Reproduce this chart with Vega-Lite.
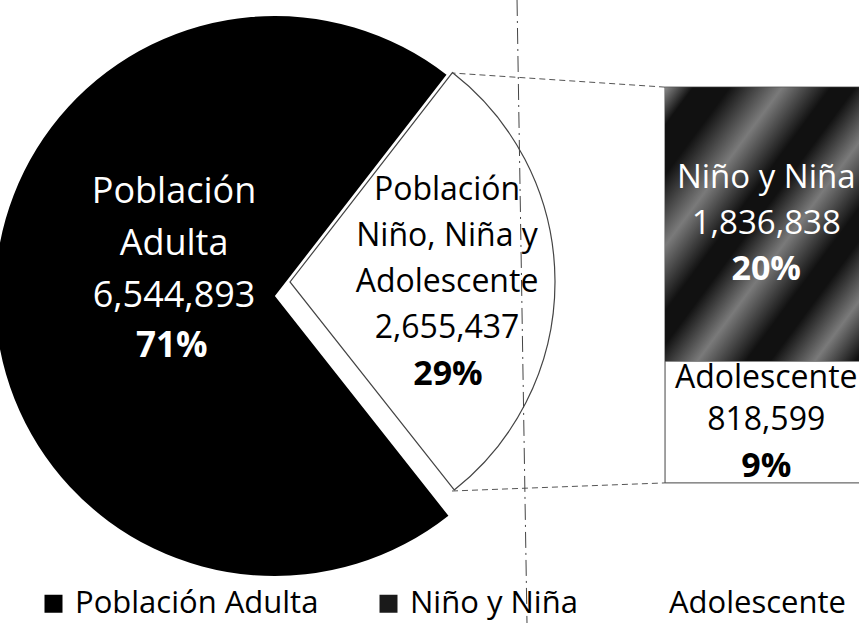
{
  "$schema": "https://vega.github.io/schema/vega-lite/v6.json",
  "width": 859,
  "height": 623,
  "autosize": {"type": "none"},
  "padding": 0,
  "background": "white",
  "config": {"view": {"stroke": null}, "font": "Open Sans", "text": {"font": "Open Sans"}},
  "datasets": {
    "pie": [
      {"grupo": "Población Niño, Niña y Adolescente", "poblacion": 2655437, "pct": "29%", "orden": 1, "label": ["Población", "Niño, Niña y", "Adolescente", "2,655,437"]},
      {"grupo": "Población Adulta", "poblacion": 6544893, "pct": "71%", "orden": 2, "label": ["Población", "Adulta", "6,544,893"]}
    ],
    "bar": [
      {"grupo": "Adolescente", "poblacion": 818599, "pct": "9%", "orden": 1, "label": ["Adolescente", "818,599"]},
      {"grupo": "Niño y Niña", "poblacion": 1836838, "pct": "20%", "orden": 2, "label": ["Niño y Niña", "1,836,838"]}
    ]
  },
  "layer": [
    {
      "data": {"name": "pie"},
      "transform": [
        {"stack": "poblacion", "groupby": [], "sort": [{"field": "orden", "order": "ascending"}], "as": ["t0", "t1"]},
        {"filter": "datum.orden == 2"}
      ],
      "mark": {"type": "arc", "outerRadius": 280, "innerRadius": 0},
      "encoding": {
        "x": {"datum": 32.0, "type": "quantitative", "stack": null, "scale": {"domain": [0, 100], "nice": false, "zero": false}, "axis": null},
        "y": {"datum": 1254000, "type": "quantitative", "stack": null, "scale": {"domain": [-940000, 3240000], "nice": false, "zero": false}, "axis": null},
        "theta": {"field": "t0", "type": "quantitative", "stack": null, "scale": {"domain": [0, 9200330], "range": [0.6597, 6.9429]}},
        "theta2": {"field": "t1"},
        "color": {
          "field": "grupo", "type": "nominal",
          "scale": {"domain": ["Población Adulta", "Niño y Niña", "Adolescente"], "range": ["#000000", "#1a1a1a", "#ffffff"]},
          "legend": {"orient": "none", "legendX": 38, "legendY": 588, "direction": "horizontal", "title": null, "symbolType": "square", "symbolSize": 324, "symbolStrokeWidth": 0, "labelFontSize": 31, "labelFont": "Open Sans", "labelColor": "#000000", "labelLimit": 400, "columnPadding": 54, "labelOffset": 6, "padding": 0}
        }
      }
    },
    {
      "data": {"name": "pie"},
      "transform": [
        {"stack": "poblacion", "groupby": [], "sort": [{"field": "orden", "order": "ascending"}], "as": ["t0", "t1"]},
        {"filter": "datum.orden == 1"}
      ],
      "mark": {"type": "arc", "outerRadius": 265, "innerRadius": 0, "fill": "#ffffff", "stroke": "#444444", "strokeWidth": 1.2},
      "encoding": {
        "x": {"datum": 33.76, "type": "quantitative", "stack": null, "scale": {"domain": [0, 100], "nice": false, "zero": false}, "axis": null},
        "y": {"datum": 1348000, "type": "quantitative", "stack": null, "scale": {"domain": [-940000, 3240000], "nice": false, "zero": false}, "axis": null},
        "theta": {"field": "t0", "type": "quantitative", "stack": null, "scale": {"domain": [0, 9200330], "range": [0.6597, 6.9429]}},
        "theta2": {"field": "t1"}
      }
    },
    {
      "data": {"name": "pie"},
      "transform": [{"filter": "datum.orden == 1"}],
      "mark": {"type": "rule", "color": "#555555", "strokeWidth": 1, "strokeDash": [6, 4]},
      "encoding": {
        "x": {"datum": 77.42, "type": "quantitative", "scale": {"domain": [0, 100], "nice": false, "zero": false}, "axis": null},
        "y": {"field": "poblacion", "type": "quantitative", "scale": {"domain": [-940000, 3240000], "nice": false, "zero": false}, "axis": null},
        "x2": {"datum": 52.62},
        "y2": {"datum": 2750200}
      }
    },
    {
      "data": {"name": "pie"},
      "transform": [{"filter": "datum.orden == 1"}],
      "mark": {"type": "rule", "color": "#555555", "strokeWidth": 1, "strokeDash": [6, 4]},
      "encoding": {
        "x": {"datum": 52.62, "type": "quantitative", "scale": {"domain": [0, 100], "nice": false, "zero": false}, "axis": null},
        "y": {"datum": -54350, "type": "quantitative", "scale": {"domain": [-940000, 3240000], "nice": false, "zero": false}, "axis": null},
        "x2": {"datum": 77.42},
        "y2": {"datum": 0}
      }
    },
    {
      "data": {"name": "bar"},
      "transform": [
        {"stack": "poblacion", "groupby": [], "sort": [{"field": "orden", "order": "ascending"}], "as": ["t0", "t1"]}
      ],
      "mark": {"type": "rect", "stroke": "#444444", "strokeWidth": 1},
      "encoding": {
        "x": {"datum": 77.42, "type": "quantitative", "scale": {"domain": [0, 100], "nice": false, "zero": false}, "axis": null},
        "x2": {"datum": 101},
        "y": {"field": "t0", "type": "quantitative", "scale": {"domain": [-940000, 3240000], "nice": false, "zero": false}, "axis": null},
        "y2": {"field": "t1"},
        "color": {
          "field": "grupo", "type": "nominal",
          "scale": {"domain": ["Población Adulta", "Niño y Niña", "Adolescente"], "range": ["#000000", "#1a1a1a", "#ffffff"]},
          "legend": {"orient": "none", "legendX": 38, "legendY": 588, "direction": "horizontal", "title": null, "symbolType": "square", "symbolSize": 324, "symbolStrokeWidth": 0, "labelFontSize": 31, "labelFont": "Open Sans", "labelColor": "#000000", "labelLimit": 400, "columnPadding": 54, "labelOffset": 6, "padding": 0}
        }
      }
    },
    {
      "data": {"name": "bar"},
      "transform": [
        {"stack": "poblacion", "groupby": [], "sort": [{"field": "orden", "order": "ascending"}], "as": ["t0", "t1"]},
        {"filter": "datum.orden == 2"}
      ],
      "mark": {
        "type": "rect",
        "fill": {
          "gradient": "linear", "x1": 0, "y1": 0, "x2": 1, "y2": 1,
          "stops": [
            {"offset": 0, "color": "#8a8a8a"},
            {"offset": 0.07, "color": "#111111"},
            {"offset": 0.16, "color": "#111111"},
            {"offset": 0.29, "color": "#7a7a7a"},
            {"offset": 0.41, "color": "#111111"},
            {"offset": 0.47, "color": "#111111"},
            {"offset": 0.58, "color": "#7a7a7a"},
            {"offset": 0.70, "color": "#111111"},
            {"offset": 0.76, "color": "#111111"},
            {"offset": 0.87, "color": "#7a7a7a"},
            {"offset": 0.97, "color": "#111111"},
            {"offset": 1, "color": "#111111"}
          ]
        }
      },
      "encoding": {
        "x": {"datum": 77.42, "type": "quantitative", "scale": {"domain": [0, 100], "nice": false, "zero": false}, "axis": null},
        "x2": {"datum": 101},
        "y": {"field": "t0", "type": "quantitative", "scale": {"domain": [-940000, 3240000], "nice": false, "zero": false}, "axis": null},
        "y2": {"field": "t1"}
      }
    },
    {
      "data": {"name": "bar"},
      "transform": [{"filter": "datum.orden == 2"}],
      "mark": {"type": "text", "align": "center", "baseline": "middle", "fontSize": 33, "lineHeight": 46, "color": "#ffffff"},
      "encoding": {
        "x": {"datum": 89.2, "type": "quantitative", "scale": {"domain": [0, 100], "nice": false, "zero": false}, "axis": null},
        "y": {"datum": 2045700, "type": "quantitative", "scale": {"domain": [-940000, 3240000], "nice": false, "zero": false}, "axis": null},
        "text": {"field": "label", "type": "nominal"}
      }
    },
    {
      "data": {"name": "bar"},
      "transform": [{"filter": "datum.orden == 2"}],
      "mark": {"type": "text", "align": "center", "baseline": "middle", "fontSize": 34, "fontWeight": "bold", "color": "#ffffff"},
      "encoding": {
        "x": {"datum": 89.2, "type": "quantitative", "scale": {"domain": [0, 100], "nice": false, "zero": false}, "axis": null},
        "y": {"datum": 1428000, "type": "quantitative", "scale": {"domain": [-940000, 3240000], "nice": false, "zero": false}, "axis": null},
        "text": {"field": "pct", "type": "nominal"}
      }
    },
    {
      "data": {"name": "bar"},
      "transform": [{"filter": "datum.orden == 1"}],
      "mark": {"type": "text", "align": "center", "baseline": "middle", "fontSize": 32, "lineHeight": 42, "color": "#000000"},
      "encoding": {
        "x": {"datum": 89.2, "type": "quantitative", "scale": {"domain": [0, 100], "nice": false, "zero": false}, "axis": null},
        "y": {"datum": 703900, "type": "quantitative", "scale": {"domain": [-940000, 3240000], "nice": false, "zero": false}, "axis": null},
        "text": {"field": "label", "type": "nominal"}
      }
    },
    {
      "data": {"name": "bar"},
      "transform": [{"filter": "datum.orden == 1"}],
      "mark": {"type": "text", "align": "center", "baseline": "middle", "fontSize": 34, "fontWeight": "bold", "color": "#000000"},
      "encoding": {
        "x": {"datum": 89.2, "type": "quantitative", "scale": {"domain": [0, 100], "nice": false, "zero": false}, "axis": null},
        "y": {"datum": 106700, "type": "quantitative", "scale": {"domain": [-940000, 3240000], "nice": false, "zero": false}, "axis": null},
        "text": {"field": "pct", "type": "nominal"}
      }
    },
    {
      "data": {"name": "pie"},
      "transform": [{"filter": "datum.orden == 2"}],
      "mark": {"type": "text", "align": "center", "baseline": "middle", "fontSize": 36, "lineHeight": 52, "color": "#ffffff"},
      "encoding": {
        "x": {"datum": 20.26, "type": "quantitative", "scale": {"domain": [0, 100], "nice": false, "zero": false}, "axis": null},
        "y": {"datum": 1952000, "type": "quantitative", "scale": {"domain": [-940000, 3240000], "nice": false, "zero": false}, "axis": null},
        "text": {"field": "label", "type": "nominal"}
      }
    },
    {
      "data": {"name": "pie"},
      "transform": [{"filter": "datum.orden == 2"}],
      "mark": {"type": "text", "align": "center", "baseline": "middle", "fontSize": 35, "fontWeight": "bold", "color": "#ffffff"},
      "encoding": {
        "x": {"datum": 20.0, "type": "quantitative", "scale": {"domain": [0, 100], "nice": false, "zero": false}, "axis": null},
        "y": {"datum": 918500, "type": "quantitative", "scale": {"domain": [-940000, 3240000], "nice": false, "zero": false}, "axis": null},
        "text": {"field": "pct", "type": "nominal"}
      }
    },
    {
      "data": {"name": "pie"},
      "transform": [{"filter": "datum.orden == 1"}],
      "mark": {"type": "text", "align": "center", "baseline": "middle", "fontSize": 32, "lineHeight": 46, "color": "#000000"},
      "encoding": {
        "x": {"datum": 52.04, "type": "quantitative", "scale": {"domain": [0, 100], "nice": false, "zero": false}, "axis": null},
        "y": {"datum": 1965200, "type": "quantitative", "scale": {"domain": [-940000, 3240000], "nice": false, "zero": false}, "axis": null},
        "text": {"field": "label", "type": "nominal"}
      }
    },
    {
      "data": {"name": "pie"},
      "transform": [{"filter": "datum.orden == 1"}],
      "mark": {"type": "text", "align": "center", "baseline": "middle", "fontSize": 34, "fontWeight": "bold", "color": "#000000"},
      "encoding": {
        "x": {"datum": 52.15, "type": "quantitative", "scale": {"domain": [0, 100], "nice": false, "zero": false}, "axis": null},
        "y": {"datum": 724000, "type": "quantitative", "scale": {"domain": [-940000, 3240000], "nice": false, "zero": false}, "axis": null},
        "text": {"field": "pct", "type": "nominal"}
      }
    },
    {
      "data": {"name": "pie"},
      "transform": [{"filter": "datum.orden == 1"}],
      "mark": {"type": "rule", "color": "#444444", "strokeWidth": 1, "strokeDash": [16, 5, 2, 5]},
      "encoding": {
        "x": {"datum": 60.19, "type": "quantitative", "scale": {"domain": [0, 100], "nice": false, "zero": false}, "axis": null},
        "y": {"datum": 3240000, "type": "quantitative", "scale": {"domain": [-940000, 3240000], "nice": false, "zero": false}, "axis": null},
        "x2": {"datum": 61.35},
        "y2": {"datum": -940000}
      }
    }
  ]
}
